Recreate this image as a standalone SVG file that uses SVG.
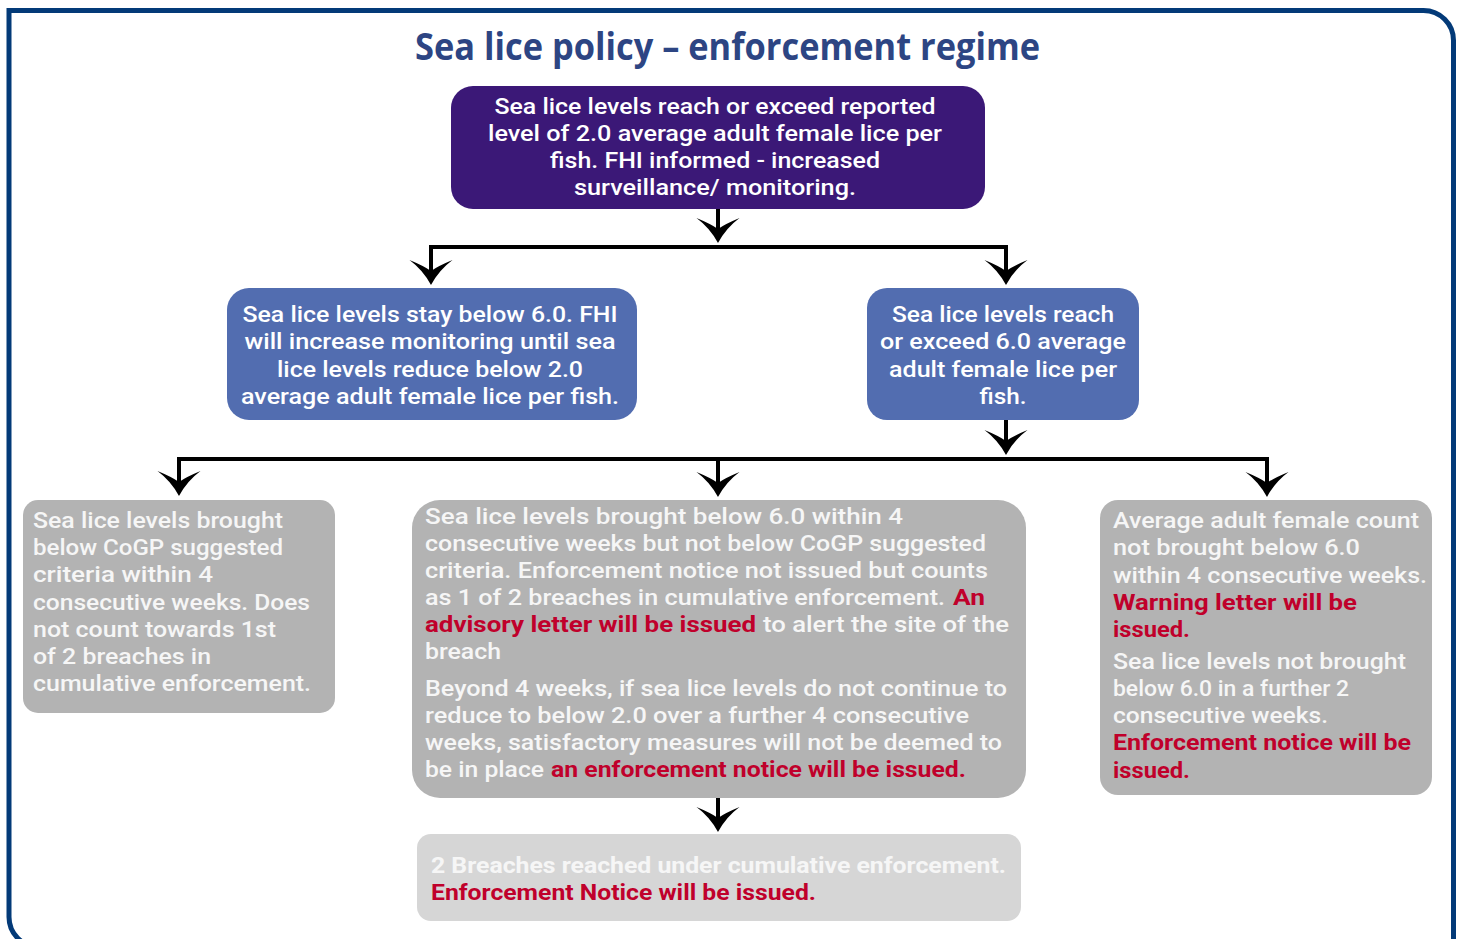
<svg xmlns="http://www.w3.org/2000/svg" width="1460" height="939" viewBox="0 0 1460 939">
<style>
.t{font-family:Roboto,"Liberation Sans",sans-serif;font-size:22.8px;font-weight:500;fill:#ffffff}
.c{text-anchor:middle}
.g{fill:#f6f6f6}
.r{fill:#c0002b;font-weight:700}
.b{font-weight:700}
.title{font-family:"Open Sans","Noto Sans",sans-serif;font-size:37px;font-weight:700;fill:#2d4583;text-anchor:middle}
.conn{fill:none;stroke:#000;stroke-width:4;stroke-linejoin:miter}
</style>
<defs>
<marker id="ah" markerUnits="userSpaceOnUse" viewBox="-30 -30 60 60" markerWidth="60" markerHeight="60" refX="-12" refY="0" orient="auto-start-reverse" overflow="visible">
<path d="M0,0 Q-15,8 -25,21.5 Q-19,7 -14,0 Q-19,-7 -25,-21.5 Q-15,-8 0,0 Z" fill="#000"/>
</marker>
</defs>
<rect width="1460" height="939" fill="#ffffff"/>
<path d="M1453.5,975 V40.5 A30,30 0 0 0 1423.5,10.5 H9 V917 A30,30 0 0 0 39,947 H1453.5" fill="none" stroke="#033a78" stroke-width="5"/>
<text class="title" x="727.5" y="60" textLength="625" lengthAdjust="spacingAndGlyphs">Sea lice policy – enforcement regime</text>

<g id="connectors">
<path class="conn" d="M718,209 V231" marker-end="url(#ah)"/>
<path class="conn" d="M431,273 V247 H1006 V273" marker-start="url(#ah)" marker-end="url(#ah)"/>
<path class="conn" d="M1006,419 V443" marker-end="url(#ah)"/>
<path class="conn" d="M179,484 V459 H1267 V485" marker-start="url(#ah)" marker-end="url(#ah)"/>
<path class="conn" d="M718,459 V485" marker-end="url(#ah)"/>
<path class="conn" d="M718,797 V820" marker-end="url(#ah)"/>
</g>

<g id="n-top">
<rect x="451" y="86" width="534" height="123" rx="22" fill="#3b1877"/>
<text class="t c" x="715" y="114" textLength="441" lengthAdjust="spacingAndGlyphs">Sea lice levels reach or exceed reported</text>
<text class="t c" x="715" y="141" textLength="454" lengthAdjust="spacingAndGlyphs">level of 2.0 average adult female lice per</text>
<text class="t c" x="715" y="168" textLength="330" lengthAdjust="spacingAndGlyphs">fish. FHI informed - increased</text>
<text class="t c" x="715" y="195" textLength="282" lengthAdjust="spacingAndGlyphs">surveillance/ monitoring.</text>
</g>

<g id="n-stay">
<rect x="227" y="288" width="410" height="132" rx="22" fill="#526db0"/>
<text class="t c" x="430" y="322" textLength="375" lengthAdjust="spacingAndGlyphs">Sea lice levels stay below 6.0. FHI</text>
<text class="t c" x="430" y="349" textLength="371" lengthAdjust="spacingAndGlyphs">will increase monitoring until sea</text>
<text class="t c" x="430" y="377" textLength="306" lengthAdjust="spacingAndGlyphs">lice levels reduce below 2.0</text>
<text class="t c" x="430" y="404" textLength="378" lengthAdjust="spacingAndGlyphs">average adult female lice per fish.</text>
</g>

<g id="n-exceed">
<rect x="867" y="288" width="272" height="132" rx="20" fill="#526db0"/>
<text class="t c" x="1003" y="322" textLength="222" lengthAdjust="spacingAndGlyphs">Sea lice levels reach</text>
<text class="t c" x="1003" y="349" textLength="246" lengthAdjust="spacingAndGlyphs">or exceed 6.0 average</text>
<text class="t c" x="1003" y="377" textLength="228" lengthAdjust="spacingAndGlyphs">adult female lice per</text>
<text class="t c" x="1003" y="404" textLength="47" lengthAdjust="spacingAndGlyphs">fish.</text>
</g>

<g id="n-below-cogp">
<rect x="23" y="500" width="312" height="213" rx="15" fill="#b3b3b3"/>
<text class="t g" x="33" y="528" textLength="250" lengthAdjust="spacingAndGlyphs">Sea lice levels brought</text>
<text class="t g" x="33" y="555" textLength="250" lengthAdjust="spacingAndGlyphs">below CoGP suggested</text>
<text class="t g" x="33" y="582" textLength="180" lengthAdjust="spacingAndGlyphs">criteria within 4</text>
<text class="t g" x="33" y="610" textLength="277" lengthAdjust="spacingAndGlyphs">consecutive weeks. Does</text>
<text class="t g" x="33" y="637" textLength="243" lengthAdjust="spacingAndGlyphs">not count towards 1st</text>
<text class="t g" x="33" y="664" textLength="178" lengthAdjust="spacingAndGlyphs">of 2 breaches in</text>
<text class="t g" x="33" y="691" textLength="278" lengthAdjust="spacingAndGlyphs">cumulative enforcement.</text>
</g>

<g id="n-below6">
<rect x="412" y="500" width="614" height="298" rx="28" fill="#b3b3b3"/>
<text class="t g" x="425" y="524" textLength="478" lengthAdjust="spacingAndGlyphs">Sea lice levels brought below 6.0 within  4</text>
<text class="t g" x="425" y="551" textLength="561" lengthAdjust="spacingAndGlyphs">consecutive weeks but not below CoGP suggested</text>
<text class="t g" x="425" y="578" textLength="563" lengthAdjust="spacingAndGlyphs">criteria. Enforcement notice not issued but counts</text>
<text class="t g" x="425" y="605" textLength="520" lengthAdjust="spacingAndGlyphs">as 1 of 2 breaches in cumulative enforcement.</text>
<text class="t r" x="953" y="605" textLength="32" lengthAdjust="spacingAndGlyphs">An</text>
<text class="t r" x="425" y="632" textLength="331" lengthAdjust="spacingAndGlyphs">advisory letter will be issued</text>
<text class="t g" x="763" y="632" textLength="246" lengthAdjust="spacingAndGlyphs">to alert the site of the</text>
<text class="t g" x="425" y="659" textLength="76" lengthAdjust="spacingAndGlyphs">breach</text>
<text class="t g" x="425" y="696" textLength="582" lengthAdjust="spacingAndGlyphs">Beyond 4 weeks, if sea lice levels do not continue to</text>
<text class="t g" x="425" y="723" textLength="544" lengthAdjust="spacingAndGlyphs">reduce to below 2.0 over a further 4 consecutive</text>
<text class="t g" x="425" y="750" textLength="577" lengthAdjust="spacingAndGlyphs">weeks, satisfactory measures will not be deemed to</text>
<text class="t g" x="425" y="777" textLength="119" lengthAdjust="spacingAndGlyphs">be in place</text>
<text class="t r" x="551" y="777" textLength="415" lengthAdjust="spacingAndGlyphs">an enforcement notice will be issued.</text>
</g>

<g id="n-not-below6">
<rect x="1100" y="500" width="332" height="295" rx="18" fill="#b3b3b3"/>
<text class="t g" x="1113" y="528" textLength="306" lengthAdjust="spacingAndGlyphs">Average adult female count</text>
<text class="t g" x="1113" y="555" textLength="247" lengthAdjust="spacingAndGlyphs">not brought below 6.0</text>
<text class="t g" x="1113" y="583" textLength="314" lengthAdjust="spacingAndGlyphs">within 4 consecutive weeks.</text>
<text class="t r" x="1113" y="610" textLength="244" lengthAdjust="spacingAndGlyphs">Warning letter will be</text>
<text class="t r" x="1113" y="637" textLength="77" lengthAdjust="spacingAndGlyphs">issued.</text>
<text class="t g" x="1113" y="669" textLength="293" lengthAdjust="spacingAndGlyphs">Sea lice levels not brought</text>
<text class="t g" x="1113" y="696" textLength="236" lengthAdjust="spacingAndGlyphs">below 6.0 in a further 2</text>
<text class="t g" x="1113" y="723" textLength="215" lengthAdjust="spacingAndGlyphs">consecutive weeks.</text>
<text class="t r" x="1113" y="750" textLength="298" lengthAdjust="spacingAndGlyphs">Enforcement notice will be</text>
<text class="t r" x="1113" y="778" textLength="77" lengthAdjust="spacingAndGlyphs">issued.</text>
</g>

<g id="n-breaches">
<rect x="417" y="834" width="604" height="87" rx="14" fill="#d6d6d6"/>
<text class="t g b" x="431" y="873" textLength="575" lengthAdjust="spacingAndGlyphs">2 Breaches reached under cumulative enforcement.</text>
<text class="t r" x="431" y="900" textLength="385" lengthAdjust="spacingAndGlyphs">Enforcement Notice will be issued.</text>
</g>
</svg>
